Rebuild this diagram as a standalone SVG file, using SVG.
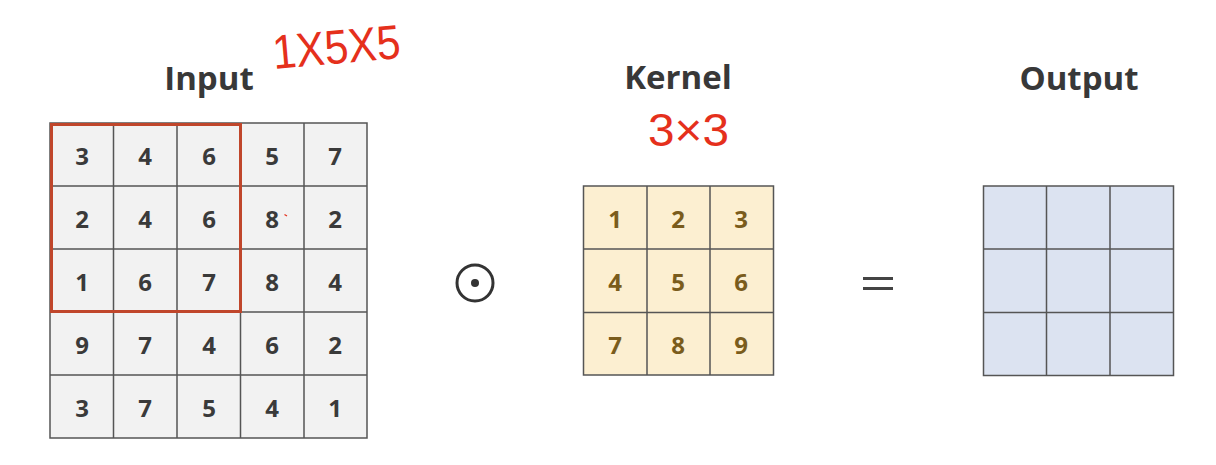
<svg xmlns="http://www.w3.org/2000/svg" width="1216" height="465" viewBox="0 0 1216 465">
<style>
.title{font-family:"Open Sans","Noto Sans",sans-serif;font-weight:700;font-size:33px;fill:#383838;text-anchor:middle}
.num{font-family:"Open Sans","Noto Sans",sans-serif;font-weight:700;font-size:24px;fill:#3a3a3a;text-anchor:middle;dominant-baseline:central}
.knum{fill:#7a5c1c}
.grid{stroke:#555;stroke-width:1.5}
.in{fill:#f2f2f2}
.kr{fill:#fcefd1}
.out{fill:#dce3f1}
.hand{font-family:"Liberation Sans",sans-serif;fill:#e5301c;font-weight:400}
</style>
<rect width="1216" height="465" fill="#ffffff"/>

<g id="input">
<text class="title" x="209" y="90">Input</text>
<rect class="in grid" x="50" y="123" width="317" height="315"/>
<g class="grid" fill="none">
<path d="M113.5 123V438M177 123V438M240.5 123V438M304 123V438M50 186H367M50 249H367M50 312H367M50 375H367"/>
</g>
<g class="num">
<text class="num" x="82" y="155">3</text><text class="num" x="145" y="155">4</text><text class="num" x="209" y="155">6</text><text class="num" x="272" y="155">5</text><text class="num" x="335" y="155">7</text>
<text class="num" x="82" y="218">2</text><text class="num" x="145" y="218">4</text><text class="num" x="209" y="218">6</text><text class="num" x="272" y="218">8</text><text class="num" x="335" y="218">2</text>
<text class="num" x="82" y="281">1</text><text class="num" x="145" y="281">6</text><text class="num" x="209" y="281">7</text><text class="num" x="272" y="281">8</text><text class="num" x="335" y="281">4</text>
<text class="num" x="82" y="344">9</text><text class="num" x="145" y="344">7</text><text class="num" x="209" y="344">4</text><text class="num" x="272" y="344">6</text><text class="num" x="335" y="344">2</text>
<text class="num" x="82" y="407">3</text><text class="num" x="145" y="407">7</text><text class="num" x="209" y="407">5</text><text class="num" x="272" y="407">4</text><text class="num" x="335" y="407">1</text>
</g>
<rect x="51.5" y="124.5" width="189" height="187" fill="none" stroke="#c0462b" stroke-width="3"/>
<path d="M284.5 214.5l2.5 1.5" stroke="#e5301c" stroke-width="1.2"/>
<text class="hand" x="274" y="69" font-size="48" textLength="128" lengthAdjust="spacingAndGlyphs" transform="rotate(-5 274 69)">1X5X5</text>
</g>

<g id="operator-odot">
<circle cx="475" cy="283" r="18" fill="none" stroke="#333" stroke-width="3"/>
<circle cx="475" cy="283" r="4" fill="#333"/>
</g>

<g id="kernel">
<text class="title" x="678" y="89">Kernel</text>
<text class="hand" x="648" y="146" font-size="46" textLength="81" lengthAdjust="spacingAndGlyphs">3×3</text>
<rect class="kr grid" x="583.5" y="186" width="190" height="189"/>
<path class="grid" fill="none" d="M647 186V375M710 186V375M583.5 249H773.5M583.5 312.5H773.5"/>
<text class="num knum" x="615" y="218">1</text><text class="num knum" x="678" y="218">2</text><text class="num knum" x="741" y="218">3</text>
<text class="num knum" x="615" y="281">4</text><text class="num knum" x="678" y="281">5</text><text class="num knum" x="741" y="281">6</text>
<text class="num knum" x="615" y="344">7</text><text class="num knum" x="678" y="344">8</text><text class="num knum" x="741" y="344">9</text>
</g>

<g id="operator-equals">
<path d="M863 278.5H893M863 288.5H893" stroke="#444" stroke-width="3"/>
</g>

<g id="output">
<text class="title" x="1079" y="90">Output</text>
<rect class="out grid" x="983.5" y="186" width="190" height="189.5"/>
<path class="grid" fill="none" d="M1046.5 186V375.5M1110 186V375.5M983.5 249H1173.5M983.5 312.5H1173.5"/>
</g>

<g id="connectors"></g>
</svg>
